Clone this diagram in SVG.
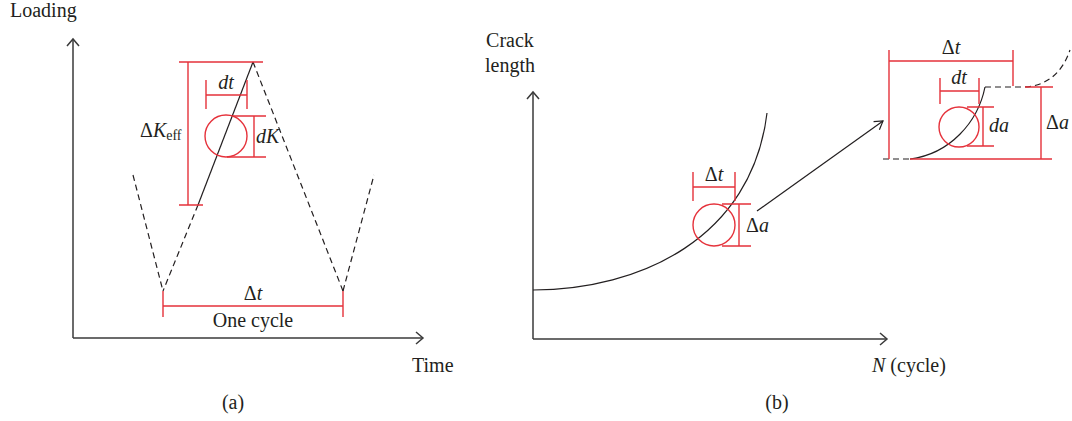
<svg xmlns="http://www.w3.org/2000/svg" width="1072" height="421" viewBox="0 0 1072 421">
<style>
text{font-family:"Liberation Serif","Times New Roman",serif;font-size:20px;fill:#231f20}
.it{font-style:italic}
.ax{fill:none;stroke:#3a3a3a;stroke-width:1.5}
.ln{fill:none;stroke:#231f20;stroke-width:1.2}
.ds{fill:none;stroke:#231f20;stroke-width:1.2;stroke-dasharray:6 4}
.rd{fill:none;stroke:#e5323b;stroke-width:1.4}
</style>
<defs>
<marker id="arr" markerUnits="userSpaceOnUse" markerWidth="16" markerHeight="16" refX="0" refY="0" viewBox="-10 -8 12 16" orient="auto">
<path d="M-7,-6 L0,0 L-7,6" fill="none" stroke="#3a3a3a" stroke-width="1.5"/>
</marker>
<marker id="arr2" markerUnits="userSpaceOnUse" markerWidth="16" markerHeight="16" refX="0" refY="0" viewBox="-10 -8 12 16" orient="auto">
<path d="M-8,-5 L0,0 L-8,5" fill="none" stroke="#231f20" stroke-width="1.2"/>
</marker>
</defs>

<g id="panel-a-axes">
<path class="ax" d="M73,338 L73,39" marker-end="url(#arr)"/>
<path class="ax" d="M73,338 L423,338" marker-end="url(#arr)"/>
<text x="10" y="17">Loading</text>
<text x="412" y="372">Time</text>
<text x="233" y="409" text-anchor="middle">(a)</text>
</g>

<g id="panel-a-load">
<path class="ln" d="M253,62 L198,205"/>
<path class="ds" d="M198,205 L163,291"/>
<path class="ds" d="M133,175 L163,291"/>
<path class="ds" d="M253,62 L343,291"/>
<path class="ds" d="M343,291 L374,175"/>
</g>

<g id="panel-a-dK-eff">
<path class="rd" d="M179,62 H263 M188,62 V205 M179,205 H203"/>
<text x="140" y="137">Δ<tspan class="it">K</tspan><tspan font-size="14" dy="3">eff</tspan></text>
</g>

<g id="panel-a-dt">
<path class="rd" d="M206,80 V109 M247,80 V109 M206,95 H247"/>
<text class="it" x="226" y="89" text-anchor="middle">dt</text>
</g>

<g id="panel-a-circle">
<circle class="rd" cx="226" cy="136" r="21"/>
<path class="rd" d="M233,116 H266 M227,157 H266 M254,116 V157"/>
<text class="it" x="256" y="143">dK</text>
</g>

<g id="panel-a-cycle">
<path class="rd" d="M163,291 V317 M343,291 V317 M163,306 H343"/>
<text x="253" y="300" text-anchor="middle">Δ<tspan class="it">t</tspan></text>
<text x="253" y="327" text-anchor="middle">One cycle</text>
</g>

<g id="panel-b-axes">
<path class="ax" d="M533,339 L533,92" marker-end="url(#arr)"/>
<path class="ax" d="M533,339 L887,339" marker-end="url(#arr)"/>
<text x="510" y="47" text-anchor="middle">Crack</text>
<text x="510" y="72" text-anchor="middle">length</text>
<text x="872" y="372"><tspan class="it">N</tspan> (cycle)</text>
<text x="777" y="409" text-anchor="middle">(b)</text>
</g>

<g id="panel-b-curve">
<path class="ln" d="M533,290 C640,290 752,238 767,113"/>
</g>

<g id="panel-b-circle">
<circle class="rd" cx="714" cy="225" r="21"/>
<path class="rd" d="M722,204 H751 M722,246 H751 M739,204 V246"/>
<path class="rd" d="M693,172 V201 M735,172 V201 M693,187 H735"/>
<text x="714" y="181" text-anchor="middle">Δ<tspan class="it">t</tspan></text>
<text x="746" y="232">Δ<tspan class="it">a</tspan></text>
</g>

<g id="connectors">
<path class="ln" d="M757,211 L883,121" marker-end="url(#arr2)"/>
</g>

<g id="inset">
<path class="ds" d="M883,159 H910"/>
<path class="ln" d="M910,159 C950,154 978,122 985,87"/>
<path class="ds" d="M985,87 H1022 C1045,87 1062,74 1070,50"/>
<path class="rd" d="M889,50 V159 M1013,50 V86 M889,61 H1013"/>
<path class="rd" d="M910,159 H1052 M1025,87 H1053 M1041,87 V159"/>
<path class="rd" d="M940,78 V104 M979,78 V104 M940,91 H979"/>
<circle class="rd" cx="959" cy="127" r="20"/>
<path class="rd" d="M967,107 H994 M967,146 H994 M983,107 V146"/>
<text x="951" y="54" text-anchor="middle">Δ<tspan class="it">t</tspan></text>
<text class="it" x="959" y="84" text-anchor="middle">dt</text>
<text class="it" x="989" y="132">da</text>
<text x="1046" y="129">Δ<tspan class="it">a</tspan></text>
</g>
</svg>
